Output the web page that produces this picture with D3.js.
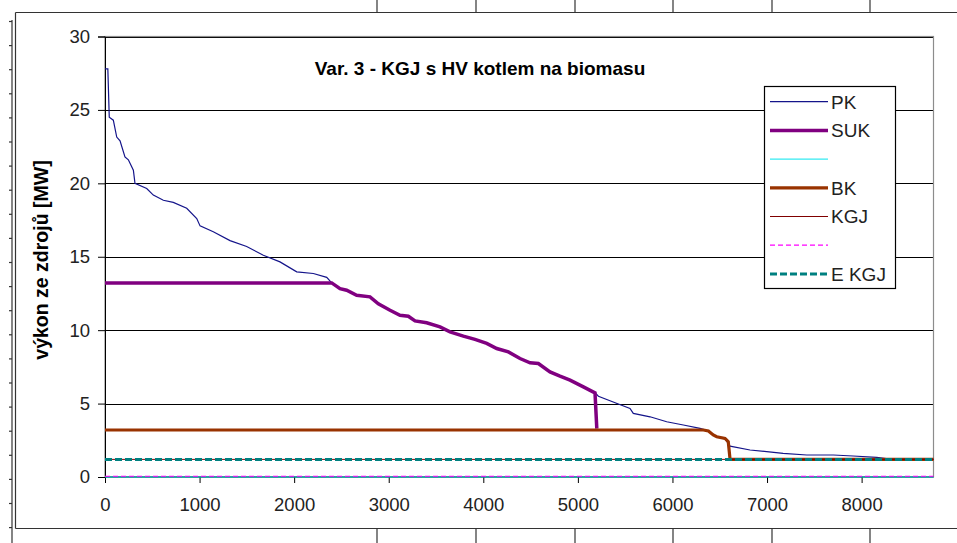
<!DOCTYPE html>
<html lang="cs">
<head>
    <meta charset="UTF-8">
    <title>Var. 3 - KGJ s HV kotlem na biomasu</title>
    <style>
        body {
            margin: 0;
            padding: 0;
            background-color: white;
        }
        svg {
            display: block;
            font-family: Arial, "Liberation Sans", sans-serif;
        }
    </style>
    <script src="https://d3js.org/d3.v7.min.js"></script>
</head>
<body>
    <div id="chart"></div>

    <script>
        // hodiny v roce a výkony zdrojů [MW]
        const pkHours = [0, 30, 45, 88, 124, 159, 211, 247, 300, 317, 441, 511, 617, 722, 864, 970, 1005, 1145, 1322,
            1498, 1674, 1850, 2027, 2203, 2344, 2397, 2485, 2555, 2661, 2802, 2890, 3014, 3119, 3207, 3278, 3401,
            3542, 3648, 3789, 3912, 4036, 4142, 4265, 4388, 4494, 4582, 4705, 4811, 4917, 5058, 5181, 5217, 5428,
            5551, 5586, 5763, 5939, 6115, 6292, 6380, 6431, 6468, 6556, 6609, 6820, 7170, 7420, 7700, 7910, 8160,
            8300, 8760];
        const pkValues = [27.8, 27.8, 24.5, 24.3, 23.15, 22.9, 21.8, 21.6, 20.9, 20.0, 19.65, 19.2, 18.85, 18.7, 18.3,
            17.6, 17.1, 16.7, 16.1, 15.7, 15.1, 14.65, 13.97, 13.86, 13.6, 13.22, 12.83, 12.72, 12.38, 12.27, 11.8,
            11.36, 11.02, 10.95, 10.63, 10.5, 10.22, 9.88, 9.59, 9.37, 9.1, 8.75, 8.52, 8.07, 7.78, 7.73, 7.16, 6.87,
            6.6, 6.14, 5.73, 5.5, 4.97, 4.67, 4.33, 4.1, 3.76, 3.54, 3.31, 3.13, 2.9, 2.75, 2.6, 2.1, 1.84, 1.61,
            1.5, 1.5, 1.43, 1.34, 1.22, 1.2];

        const sukHours = [0, 2397, 2485, 2555, 2661, 2802, 2890, 3014, 3119, 3207, 3278, 3401, 3542, 3648, 3789, 3912,
            4036, 4142, 4265, 4388, 4494, 4582, 4705, 4811, 4917, 5058, 5181, 5200];
        const sukValues = [13.22, 13.22, 12.83, 12.72, 12.38, 12.27, 11.8, 11.36, 11.02, 10.95, 10.63, 10.5, 10.22, 9.88,
            9.59, 9.37, 9.1, 8.75, 8.52, 8.07, 7.78, 7.73, 7.16, 6.87, 6.6, 6.14, 5.73, 3.3];

        const bkHours = [0, 6327, 6380, 6431, 6468, 6556, 6590, 6609, 8760];
        const bkValues = [3.2, 3.2, 3.13, 2.86, 2.74, 2.63, 2.4, 1.2, 1.2];

        const flatHours = [0, 8760];
        const cyanValues = [0, 0];
        const kgjValues = [1.2, 1.2];
        const magentaValues = [0.05, 0.05];
        const ekgjValues = [1.2, 1.2];

        const xTicks = [0, 1000, 2000, 3000, 4000, 5000, 6000, 7000, 8000];
        const yTicks = [0, 5, 10, 15, 20, 25, 30];

        const legendLabels = ["PK", "SUK", "", "BK", "KGJ", "", "E KGJ"];

        const width = 957, height = 543;

        const svg = d3.select("#chart")
            .append("svg")
            .attr("width", width)
            .attr("height", height);

        // rámečky okolní tabulky
        const frame = svg.append("g").attr("stroke", "#333").attr("stroke-width", 1.2).attr("fill", "none");
        frame.append("line").attr("x1", 15.5).attr("x2", width).attr("y1", 12.5).attr("y2", 12.5);
        frame.append("line").attr("x1", 15.5).attr("x2", width).attr("y1", 528.5).attr("y2", 528.5);
        frame.append("line").attr("x1", 15.5).attr("x2", 15.5).attr("y1", 12.5).attr("y2", 528.5);
        frame.append("line").attr("x1", 12).attr("x2", 12).attr("y1", 20).attr("y2", height);
        [377, 476, 575, 673, 772, 870].forEach(x => {
            frame.append("line").attr("x1", x).attr("x2", x).attr("y1", 0).attr("y2", 12.5);
            frame.append("line").attr("x1", x).attr("x2", x).attr("y1", 528.5).attr("y2", height);
        });
        d3.range(21.5, 530, 24.1).forEach(y => {
            frame.append("line").attr("x1", 9).attr("x2", 12).attr("y1", y).attr("y2", y);
        });

        const x = d3.scaleLinear().domain([0, 8760]).range([105, 933.5]);
        const y = d3.scaleLinear().domain([0, 30]).range([477, 36.5]);

        // mřížka
        svg.append("g")
            .selectAll("line")
            .data(yTicks.slice(1))
            .enter().append("line")
            .attr("x1", x(0)).attr("x2", x(8760))
            .attr("y1", d => Math.round(y(d)) + 0.5).attr("y2", d => Math.round(y(d)) + 0.5)
            .attr("stroke", "#000").attr("stroke-width", 1);

        svg.append("rect")
            .attr("x", x(0)).attr("y", y(30))
            .attr("width", x(8760) - x(0)).attr("height", y(0) - y(30))
            .attr("fill", "none").attr("stroke", "#8c8c8c").attr("stroke-width", 1.2);

        const line = (hours, values) => d3.line()
            .x((d, i) => x(hours[i]))
            .y(d => y(d))(values);

        const series = [
            { h: flatHours, v: cyanValues, color: "#00e5ee", w: 1, dash: null },
            { h: pkHours, v: pkValues, color: "#14148a", w: 1.2, dash: null },
            { h: sukHours, v: sukValues, color: "#800080", w: 3.5, dash: null },
            { h: bkHours, v: bkValues, color: "#993300", w: 3.2, dash: null },
            { h: flatHours, v: kgjValues, color: "#800000", w: 1, dash: null },
            { h: flatHours, v: ekgjValues, color: "#008080", w: 3, dash: "7,3" },
            { h: flatHours, v: magentaValues, color: "#ff00ff", w: 1.2, dash: "5,3" }
        ];

        // osy
        svg.append("g")
            .attr("transform", `translate(${x(0)},0)`)
            .call(d3.axisLeft(y).tickValues(yTicks).tickSize(7).tickPadding(8).tickFormat(d3.format("d")))
            .call(g => g.selectAll("text").attr("font-size", 18.5).attr("fill", "#222").attr("font-family", null))
            .call(g => g.selectAll("line, path").attr("stroke", "#000"));

        svg.append("g")
            .attr("transform", `translate(0,${y(0)})`)
            .call(d3.axisBottom(x).tickValues(xTicks).tickSize(6).tickPadding(15).tickFormat(d3.format("d")))
            .call(g => g.select(".domain").remove())
            .call(g => g.selectAll("text").attr("font-size", 18.5).attr("fill", "#222").attr("font-family", null))
            .call(g => g.selectAll("line").attr("stroke", "#000"));

        svg.append("line")
            .attr("x1", x(0)).attr("x2", x(8760))
            .attr("y1", y(0)).attr("y2", y(0))
            .attr("stroke", "#000");

        series.forEach(s => {
            svg.append("path")
                .attr("d", line(s.h, s.v))
                .attr("fill", "none")
                .attr("stroke", s.color)
                .attr("stroke-width", s.w)
                .attr("stroke-dasharray", s.dash);
        });

        // titulek a popisek osy
        svg.append("text")
            .attr("x", 480).attr("y", 75)
            .attr("text-anchor", "middle")
            .attr("font-size", 19).attr("font-weight", "bold")
            .text("Var. 3 - KGJ s HV kotlem na biomasu");

        svg.append("text")
            .attr("transform", "translate(48,260) rotate(-90)")
            .attr("text-anchor", "middle")
            .attr("font-size", 19.5).attr("font-weight", "bold")
            .text("výkon ze zdrojů [MW]");

        // legenda
        const legend = svg.append("g");
        legend.append("rect")
            .attr("x", 764.5).attr("y", 86.5).attr("width", 131).attr("height", 202)
            .attr("fill", "white").attr("stroke", "#000").attr("stroke-width", 1.2);

        const legendSeries = [series[1], series[2], series[0], series[3], series[4], series[6], series[5]];
        legendSeries.forEach((s, i) => {
            const ly = 101.7 + i * 28.7;
            legend.append("line")
                .attr("x1", 770).attr("x2", 828).attr("y1", ly).attr("y2", ly)
                .attr("stroke", s.color).attr("stroke-width", s.w)
                .attr("stroke-dasharray", s.dash);
            legend.append("text")
                .attr("x", 831).attr("y", ly + 6.8)
                .attr("font-size", 19).attr("fill", "#222")
                .text(legendLabels[i]);
        });
    </script>
</body>
</html>
